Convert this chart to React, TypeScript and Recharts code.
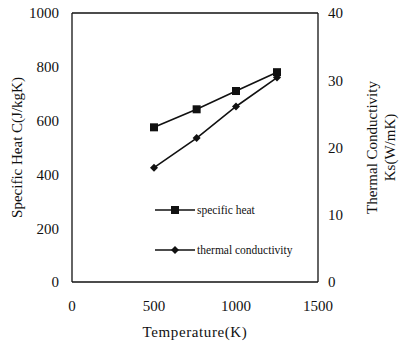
import React from "react";
import {
  LineChart,
  Line,
  XAxis,
  YAxis,
  ReferenceLine,
  Label,
} from "recharts";

// Data
const temperatures = [500, 760, 1000, 1250];
const specificHeat = [575, 642, 710, 780];
const conductivity = [17.0, 21.4, 26.1, 30.4];

const xTicks = [0, 500, 1000, 1500];
const heatTicks = [0, 200, 400, 600, 800, 1000];
const condTicks = [0, 10, 20, 30, 40];

const data = temperatures.map((t, i) => ({
  t,
  heat: specificHeat[i],
  cond: conductivity[i],
}));

const serif = "'Liberation Serif', 'DejaVu Serif', serif";
const tickStyle = { fill: "#111", fontSize: 15, fontFamily: serif };

const SquareDot = (props: any) => {
  const { cx, cy } = props;
  if (cx == null || cy == null) return null;
  return <rect x={cx - 4} y={cy - 4} width={8} height={8} fill="#111" />;
};

const DiamondDot = (props: any) => {
  const { cx, cy } = props;
  if (cx == null || cy == null) return null;
  return (
    <polygon
      points={`${cx},${cy - 4} ${cx + 4},${cy} ${cx},${cy + 4} ${cx - 4},${cy}`}
      fill="#111"
    />
  );
};

const legendItems = [
  { label: "specific heat", marker: "square" },
  { label: "thermal conductivity", marker: "diamond" },
];

// legend sits inside the plot area in the original figure
const InsideLegend = () => (
  <div
    style={{
      position: "absolute",
      left: 155,
      top: 203,
      fontFamily: serif,
      fontSize: 11.5,
      color: "#111",
    }}
  >
    {legendItems.map((item) => (
      <div
        key={item.label}
        style={{ display: "flex", alignItems: "center", height: 14, marginBottom: 26 }}
      >
        <svg width={42} height={10}>
          <line x1={0} y1={5} x2={40} y2={5} stroke="#111" strokeWidth={1.5} />
          {item.marker === "square" ? (
            <rect x={16} y={1} width={8} height={8} fill="#111" />
          ) : (
            <polygon points="20,1 24,5 20,9 16,5" fill="#111" />
          )}
        </svg>
        <span>{item.label}</span>
      </div>
    ))}
  </div>
);

export default function App() {
  return (
    <div style={{ position: "absolute", left: 0, top: 0, background: "#fff" }}>
      <LineChart
        width={399}
        height={347}
        data={data}
        margin={{ top: 13, right: 0, left: 0, bottom: 0 }}
      >
        <XAxis
          dataKey="t"
          type="number"
          domain={[0, 1500]}
          ticks={xTicks}
          height={65}
          tick={tickStyle}
          tickLine={false}
          tickMargin={12}
          axisLine={{ stroke: "#111", strokeWidth: 1.3 }}
        >
          <Label
            value="Temperature(K)"
            position="insideBottom"
            offset={10}
            style={{ fill: "#111", fontSize: 15, fontFamily: serif, letterSpacing: 0.6 }}
          />
        </XAxis>
        <YAxis
          yAxisId="left"
          domain={[0, 1000]}
          ticks={heatTicks}
          width={72}
          tick={tickStyle}
          tickLine={false}
          tickMargin={7}
          axisLine={{ stroke: "#111", strokeWidth: 1.3 }}
        >
          <Label
            value="Specific Heat C(J/kgK)"
            angle={-90}
            position="insideLeft"
            offset={17}
            style={{ fill: "#111", fontSize: 15, fontFamily: serif, textAnchor: "middle" }}
          />
        </YAxis>
        <YAxis
          yAxisId="right"
          orientation="right"
          domain={[0, 40]}
          ticks={condTicks}
          width={81}
          tick={tickStyle}
          tickLine={false}
          tickMargin={4}
          axisLine={{ stroke: "#111", strokeWidth: 1.3 }}
        >
          <Label
            value="Thermal Conductivity"
            angle={-90}
            position="insideRight"
            offset={27}
            style={{ fill: "#111", fontSize: 15, fontFamily: serif, textAnchor: "middle" }}
          />
          <Label
            value="Ks(W/mK)"
            angle={-90}
            position="insideRight"
            offset={9}
            style={{ fill: "#111", fontSize: 15, fontFamily: serif, textAnchor: "middle" }}
          />
        </YAxis>
        <ReferenceLine yAxisId="left" y={1000} stroke="#111" strokeWidth={1.3} />
        <Line
          yAxisId="left"
          dataKey="heat"
          stroke="#111"
          strokeWidth={1.6}
          dot={<SquareDot />}
          isAnimationActive={false}
        />
        <Line
          yAxisId="right"
          dataKey="cond"
          stroke="#111"
          strokeWidth={1.6}
          dot={<DiamondDot />}
          isAnimationActive={false}
        />
      </LineChart>
      <InsideLegend />
    </div>
  );
}
